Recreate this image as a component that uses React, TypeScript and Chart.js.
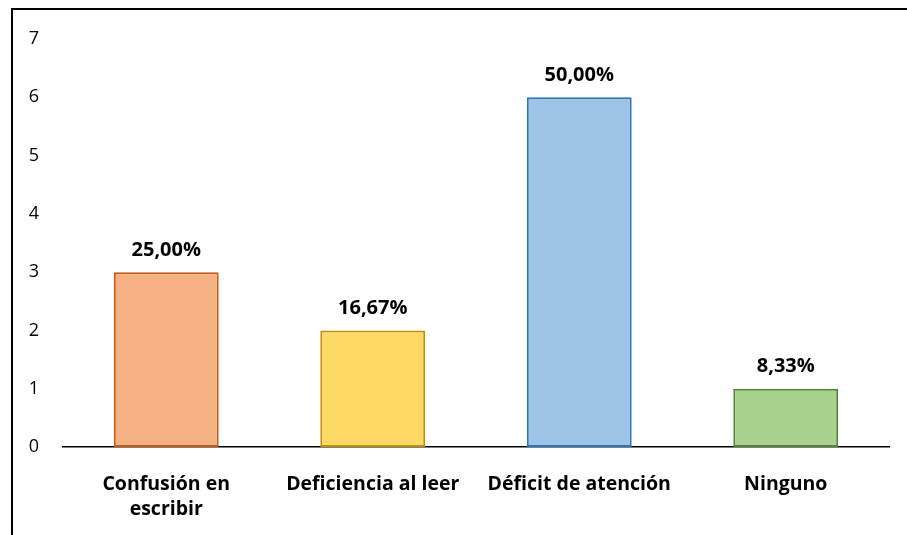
import React, { useEffect, useRef } from "react";
import { Chart, registerables } from "chart.js";

Chart.register(...registerables);

const categories: (string | string[])[] = [
  ["Confusión en", "escribir"],
  "Deficiencia al leer",
  "Déficit de atención",
  "Ninguno",
];
const values = [3, 2, 6, 1];
const percentLabels = ["25,00%", "16,67%", "50,00%", "8,33%"];
const fillColors = ["#F4B183", "#FFD966", "#9DC3E6", "#A9D18E"];
const borderColors = ["#C55A11", "#BF9000", "#2E75B6", "#548235"];
const yTicks = [0, 1, 2, 3, 4, 5, 6, 7];

const FONT = "'Open Sans', Lato, sans-serif";

const frameBorder = {
  id: "frameBorder",
  afterDraw(chart: any) {
    const ctx = chart.ctx;
    ctx.save();
    ctx.fillStyle = "#000";
    ctx.fillRect(11, 8, chart.width - 11, 2);
    ctx.fillRect(11, 8, 2, chart.height - 8);
    ctx.restore();
  },
};

const valueLabels = {
  id: "valueLabels",
  afterDatasetsDraw(chart: any) {
    const ctx = chart.ctx;
    const meta = chart.getDatasetMeta(0);
    ctx.save();
    ctx.font = `bold 20px ${FONT}`;
    ctx.fillStyle = "#000";
    ctx.textAlign = "center";
    ctx.textBaseline = "middle";
    meta.data.forEach((bar: any, i: number) => {
      ctx.fillText(percentLabels[i], bar.x, bar.y - 22);
    });
    ctx.restore();
  },
};

export default function App() {
  const ref = useRef<HTMLCanvasElement | null>(null);
  useEffect(() => {
    if (!ref.current) return;
    const chart = new Chart(ref.current, {
      type: "bar",
      data: {
        labels: categories,
        datasets: [
          {
            data: values,
            backgroundColor: fillColors,
            borderColor: borderColors,
            borderWidth: 2,
            borderSkipped: false,
            barPercentage: 0.508,
            categoryPercentage: 1,
          },
        ],
      },
      options: {
        animation: false,
        responsive: false,
        maintainAspectRatio: false,
        layout: { padding: { top: 39, right: 18, bottom: 0, left: 0 } },
        plugins: {
          legend: { display: false },
          tooltip: { enabled: false },
        },
        scales: {
          x: {
            grid: { display: false, drawTicks: false },
            border: { display: true, color: "#000", width: 1.5 },
            ticks: {
              color: "#000",
              font: { family: FONT, size: 19.5, weight: "bold", lineHeight: 1.33 },
              padding: 24,
              maxRotation: 0,
              autoSkip: false,
            },
            afterFit(scale: any) {
              scale.height = 88;
            },
          },
          y: {
            min: 0,
            max: 7,
            afterBuildTicks(scale: any) {
              scale.ticks = yTicks.map((v) => ({ value: v }));
            },
            grid: { display: false, drawTicks: false },
            border: { display: false },
            ticks: {
              color: "#000",
              font: { family: FONT, size: 18 },
              padding: 24,
            },
            afterFit(scale: any) {
              scale.width = 63;
            },
          },
        },
      },
      plugins: [valueLabels, frameBorder],
    });
    return () => chart.destroy();
  }, []);
  return (
    <canvas
      ref={ref}
      width={907}
      height={535}
      style={{ position: "fixed", left: 0, top: 0, width: 907, height: 535, background: "#fff" }}
    />
  );
}
